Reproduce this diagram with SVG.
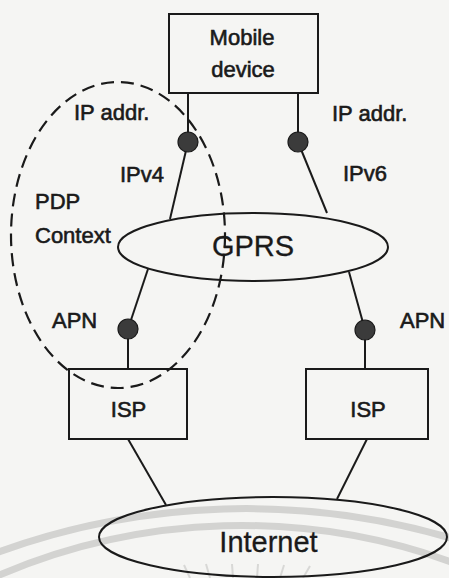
<svg xmlns="http://www.w3.org/2000/svg" width="449" height="578" viewBox="0 0 449 578">
  <style>
    .bg { fill: #f5f5f3; }
    .wm { fill: none; stroke: #d3d3d1; stroke-width: 7; }
    .ray { stroke: #d8d8d6; stroke-width: 2; }
    .box { fill: none; stroke: #1a1a1a; stroke-width: 2; }
    .cloud { fill: none; stroke: #1a1a1a; stroke-width: 2; }
    .link { fill: none; stroke: #1a1a1a; stroke-width: 2; }
    .dot { fill: #3b3b3b; stroke: #1a1a1a; stroke-width: 1.2; }
    .ctx { fill: none; stroke: #1a1a1a; stroke-width: 2.2; stroke-dasharray: 13 7; }
    text { font-family: "Liberation Sans", Arial, sans-serif; fill: #1a1a1a; stroke: #1a1a1a; stroke-width: 0.6; }
    .lbl { font-size: 22px; }
    .big { font-size: 29px; stroke-width: 0.3; }
    .mid { text-anchor: middle; }
  </style>

  <rect class="bg" x="0" y="0" width="449" height="578"/>

  <!-- faint seal arcs near the bottom edge -->
  <g id="seal">
    <path class="wm" d="M -10 555.1 A 728 728 0 0 1 460 540.8"/>
    <path class="wm" d="M -10 579.1 A 619 619 0 0 1 460 565.2"/>
    <line class="ray" x1="184" y1="565" x2="190" y2="578"/>
    <line class="ray" x1="206" y1="564" x2="210" y2="578"/>
    <line class="ray" x1="232" y1="564" x2="233" y2="578"/>
    <line class="ray" x1="258" y1="564" x2="257" y2="578"/>
    <line class="ray" x1="284" y1="565" x2="280" y2="578"/>
    <line class="ray" x1="310" y1="566" x2="303" y2="578"/>
  </g>

  <!-- connectors -->
  <g id="connectors">
    <line class="link" x1="188" y1="93" x2="188" y2="142"/>
    <line class="link" x1="298" y1="93" x2="298" y2="142"/>
    <line class="link" x1="188" y1="142" x2="170" y2="219"/>
    <line class="link" x1="298" y1="142" x2="327" y2="213"/>
    <line class="link" x1="148" y1="269" x2="128" y2="329"/>
    <line class="link" x1="349" y1="272" x2="365" y2="330"/>
    <line class="link" x1="128" y1="329" x2="128" y2="369"/>
    <line class="link" x1="365" y1="330" x2="365" y2="369"/>
    <line class="link" x1="128" y1="439" x2="166" y2="505"/>
    <line class="link" x1="367" y1="439" x2="337" y2="499"/>
  </g>

  <g id="mobile-device">
    <rect class="box" x="169" y="14" width="149" height="79"/>
    <text class="lbl mid" x="242" y="44.5">Mobile</text>
    <text class="lbl mid" x="243" y="77">device</text>
  </g>

  <g id="ip-v4-address">
    <circle class="dot" cx="188" cy="142" r="10"/>
    <text class="lbl" x="74" y="120">IP addr.</text>
    <text class="lbl" x="120" y="182">IPv4</text>
  </g>

  <g id="ip-v6-address">
    <circle class="dot" cx="298" cy="142" r="10"/>
    <text class="lbl" x="332" y="121">IP addr.</text>
    <text class="lbl" x="343" y="181">IPv6</text>
  </g>

  <g id="gprs">
    <ellipse class="cloud" cx="253" cy="247" rx="135" ry="34"/>
    <text class="big mid" x="253" y="256">GPRS</text>
  </g>

  <g id="apn-left">
    <circle class="dot" cx="128" cy="329" r="10"/>
    <text class="lbl" x="52" y="328">APN</text>
  </g>

  <g id="apn-right">
    <circle class="dot" cx="365" cy="330" r="10"/>
    <text class="lbl" x="400" y="328">APN</text>
  </g>

  <g id="isp-left">
    <rect class="box" x="69" y="369" width="118" height="70"/>
    <text class="lbl mid" x="128.5" y="417">ISP</text>
  </g>

  <g id="isp-right">
    <rect class="box" x="306" y="369" width="122" height="70"/>
    <text class="lbl mid" x="368" y="417">ISP</text>
  </g>

  <g id="internet">
    <ellipse class="cloud" cx="273" cy="537" rx="174" ry="40"/>
    <text class="big mid" x="268.5" y="552">Internet</text>
  </g>

  <g id="pdp-context">
    <ellipse class="ctx" cx="118" cy="235" rx="107" ry="153"/>
    <text class="lbl" x="35" y="209">PDP</text>
    <text class="lbl" x="35" y="243">Context</text>
  </g>
</svg>
